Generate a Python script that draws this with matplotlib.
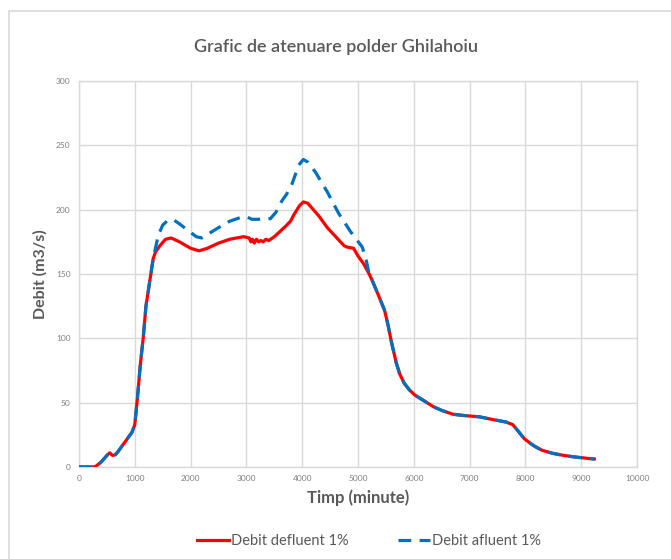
import numpy as np
import matplotlib.pyplot as plt
from matplotlib.patches import Rectangle

plt.rcParams['font.family'] = ['Lato', 'DejaVu Sans']

# Debit defluent 1% (red)
t_def = [0, 250, 300, 400, 500, 550, 600, 650, 700, 850, 950, 1000, 1050, 1100,
         1150, 1200, 1270, 1330, 1370, 1450, 1550, 1650, 1800, 2000, 2150, 2300,
         2500, 2700, 2950, 3050, 3080, 3110, 3140, 3180, 3220, 3260, 3300, 3350,
         3400, 3500, 3600, 3700, 3790, 3850, 3950, 4020, 4100, 4200, 4300, 4450,
         4600, 4750, 4800, 4850, 4920, 5000, 5100, 5200, 5265, 5370, 5475, 5540,
         5595, 5685, 5750, 5830, 5920, 6015, 6200, 6345, 6500, 6700, 6900, 7175,
         7400, 7650, 7770, 7850, 7980, 8100, 8190, 8300, 8490, 8650, 8845, 9050,
         9235]
q_def = [0, 0, 0.5, 4, 9, 11, 9, 9.5, 12, 21, 27, 33, 55, 80,
         100, 125, 145, 162, 167, 172, 177, 178, 175, 170, 168, 170,
         174, 177, 179, 178, 175, 177, 174, 177, 175, 176, 175, 177,
         176, 179, 183, 187, 191, 196, 203, 206, 205, 200, 195, 186,
         179, 172, 171, 170.5, 170, 164, 158, 150, 144, 133, 122, 110,
         98, 81, 72, 65, 60, 56, 51, 47, 44, 41, 40, 39,
         37, 35, 33, 29, 22, 18, 15.5, 13, 10.6, 9.3, 8, 7,
         6.2]

# Debit afluent 1% (blue)
t_afl = [0, 250, 300, 400, 500, 550, 600, 650, 700, 850, 950, 1000, 1050, 1100,
         1150, 1200, 1270, 1330, 1370, 1420, 1500, 1600, 1700, 1800, 1950, 2100,
         2200, 2350, 2500, 2700, 2900, 3000, 3100, 3200, 3430, 3530, 3638, 3720,
         3818, 3937, 4021, 4100, 4240, 4447, 4655, 4865, 5075, 5135, 5200, 5265,
         5370, 5475, 5540, 5595, 5685, 5750, 5830, 5920, 6015, 6200, 6345, 6500,
         6700, 6900, 7175, 7400, 7650, 7770, 7850, 7980, 8100, 8190, 8300, 8490,
         8650, 8845, 9050, 9235]
q_afl = [0, 0, 0.5, 4, 9, 11, 9, 9.5, 12, 21, 27, 33, 55, 80,
         100, 125, 145, 162, 170, 180, 188, 192, 192, 189, 184, 179,
         178, 182, 186, 191, 194, 194.5, 192.5, 192.5, 193, 198, 207, 212,
         220, 234.6, 239, 237, 229, 214, 197, 183, 171, 163, 150, 144,
         133, 122, 110, 98, 81, 72, 65, 60, 56, 51, 47, 44,
         41, 40, 39, 37, 35, 33, 29, 22, 18, 15.5, 13, 10.6,
         9.3, 8, 7, 6.2]

x_ticks = np.arange(0, 10001, 1000)
y_ticks = np.arange(0, 301, 50)

fig = plt.figure(figsize=(6.71, 5.59), dpi=100)
fig.patch.set_facecolor('white')

# chart frame
fig.patches.append(Rectangle((9 / 671, -0.05), 1.0, 1 - 11 / 559 + 0.05,
                             transform=fig.transFigure, fill=False,
                             edgecolor='#D9D9D9', lw=1.2))

ax = fig.add_axes([79 / 671, 1 - 467 / 559, (637 - 79) / 671, (467 - 81) / 559])
ax.plot(t_def, q_def, color='#FF0000', lw=2.3, label='Debit defluent 1%',
        solid_joinstyle='round', zorder=3)
ax.plot(t_afl, q_afl, color='#0070C0', lw=2.3, dashes=(4, 2.6),
        label='Debit afluent 1%', zorder=4)

ax.set_xlim(0, 10000)
ax.set_ylim(0, 300)
ax.set_xticks(x_ticks)
ax.set_yticks(y_ticks)
ax.tick_params(length=0, labelsize=6, colors='#7F7F7F', pad=6)
ax.grid(True, color='#D9D9D9', lw=1)
ax.set_axisbelow(True)
for s in ax.spines.values():
    s.set_color('#D9D9D9')
    s.set_linewidth(1)

ax.set_xlabel('Timp (minute)', fontsize=12, fontweight='bold', color='#595959', labelpad=5)
ax.set_ylabel('Debit (m3/s)', fontsize=11.5, fontweight='bold', color='#595959', labelpad=6)
fig.text(0.5, 1 - 47 / 559, 'Grafic de atenuare polder Ghilahoiu', ha='center',
         va='center', fontsize=13, fontweight='semibold', color='#595959')

leg = fig.legend(loc='center', bbox_to_anchor=(0.55, 1 - 541 / 559), ncol=2,
                 frameon=False, fontsize=10.5, handlelength=2.2, handletextpad=0.1,
                 columnspacing=3.4)
for txt in leg.get_texts():
    txt.set_color('#595959')

fig.savefig('out.png', dpi=100)
